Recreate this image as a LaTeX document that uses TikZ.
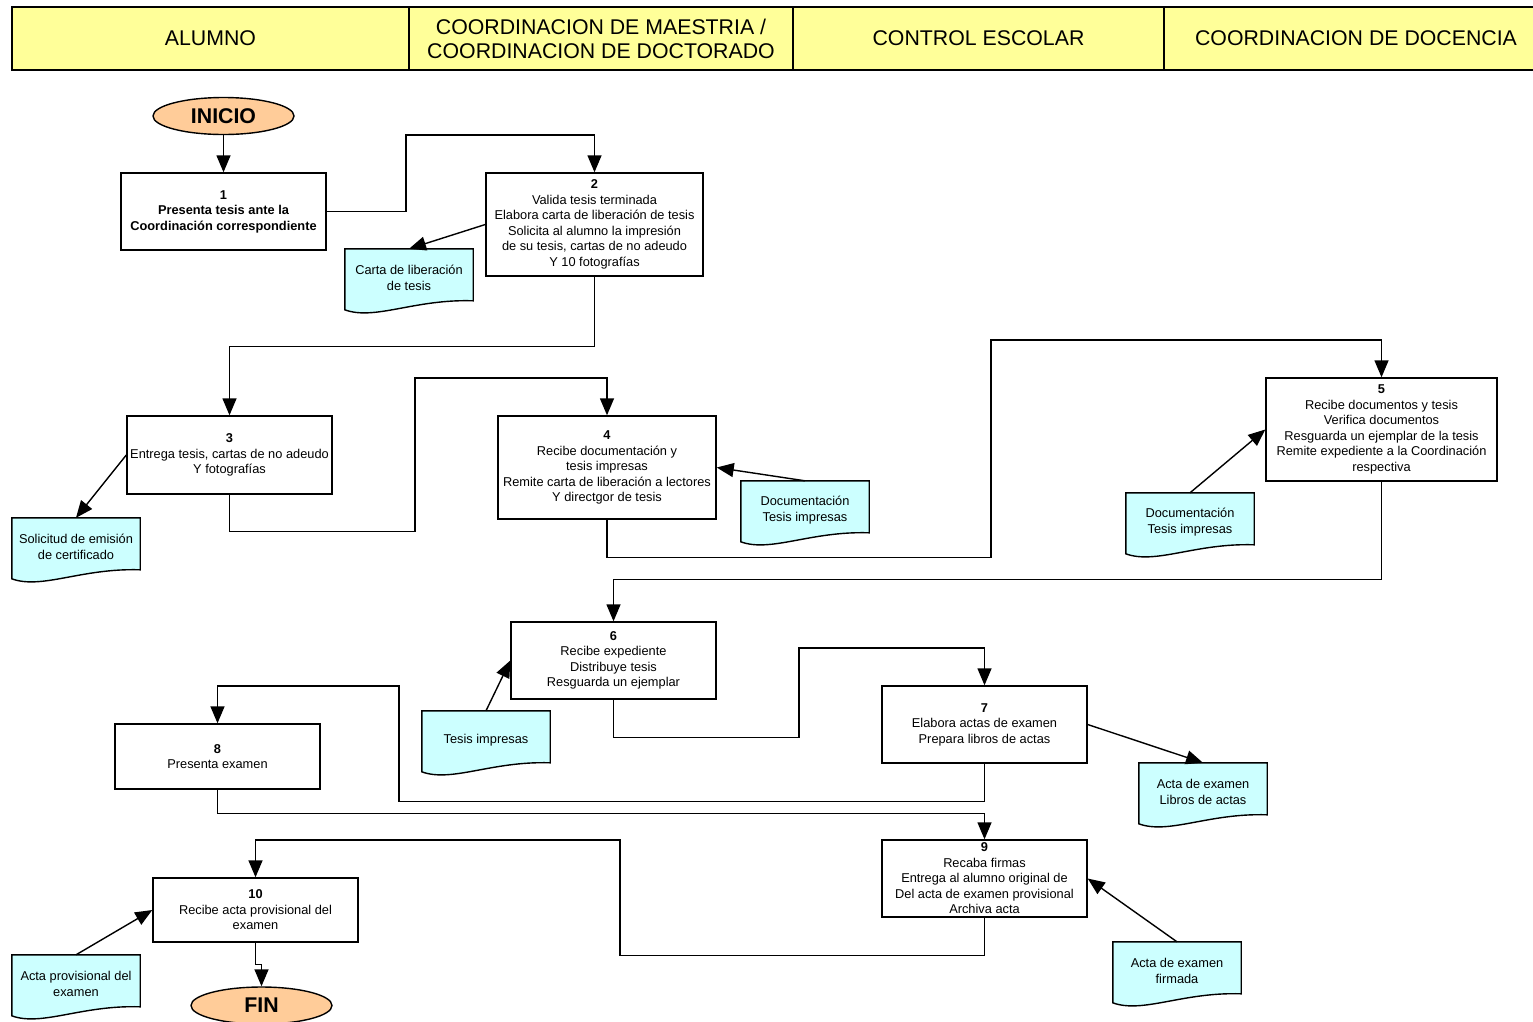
\documentclass[tikz,border=0pt]{standalone}
\usepackage{fontspec}
\setmainfont{Liberation Sans}
\usepackage{xcolor}
\usepackage{tikz}
\usetikzlibrary{arrows.meta,calc,backgrounds,positioning,shapes}
\tikzset{>={Triangle[length=17pt,width=14pt]}}
\definecolor{cabecera}{HTML}{FFFF99}
\definecolor{hojafill}{HTML}{CCFFFF}
\definecolor{termfill}{HTML}{FFCC99}
\tikzset{
  carril/.style={draw, fill=cabecera, line width=1.5pt, minimum height=63pt, align=center,
    font=\fontsize{21.3}{24}\selectfont, inner sep=0pt, text depth=0pt},
  paso/.style={draw, fill=white, line width=1.4pt, minimum width=205pt, minimum height=77pt,
    align=center, font=\fontsize{12.8}{15.5}\selectfont, inner sep=1pt},
  docu/.style={minimum width=128pt, minimum height=58pt, align=center,
    font=\fontsize{12.8}{15.5}\selectfont, inner sep=1pt},
  terminal/.style={ellipse, draw, fill=termfill, line width=1.4pt, minimum width=141pt,
    minimum height=37pt, inner sep=0pt, font=\fontsize{21.3}{24}\selectfont\bfseries},
  flujo/.style={->, line width=1.4pt},
}
% hoja con borde ondulado: nombre, posicion, texto
\newcommand{\hoja}[3]{%
  \node[docu] at (#2) (#1) {#3};
  \begin{scope}[on background layer]
    \draw[fill=hojafill, line width=1.4pt] (#1.north west) -- (#1.north east)
      -- ($(#1.north east)+(0,52)$)
      .. controls ($(#1.north west)+(70,50)$) and ($(#1.north west)+(30,72)$) .. ($(#1.north west)+(0,61)$)
      -- cycle;
  \end{scope}}

\begin{document}
\begin{tikzpicture}[x=1pt,y=-1pt]
  \useasboundingbox (0,0) rectangle (1533,1021);
  % carriles
  \node[carril, minimum width=397pt] at (210.5,38.5) (H1) {ALUMNO};
  \node[carril, minimum width=384pt] at (601,38.5) (H2) {COORDINACION DE MAESTRIA /\\COORDINACION DE DOCTORADO};
  \node[carril, minimum width=371pt] at (978.5,38.5) (H3) {CONTROL ESCOLAR};
  \node[carril, minimum width=384pt] at (1356,38.5) (H4) {COORDINACION DE DOCENCIA};

  \node[terminal] at (223.5,116) (Inicio) {INICIO};
  \node[paso, font=\fontsize{12.8}{15.5}\selectfont\bfseries] at (223.5,211.5) (S1) {1\\Presenta tesis ante la\\Coordinación correspondiente};
  \node[paso, minimum width=217pt, minimum height=103pt] at (594.5,224.5) (S2) {\textbf{2}\\Valida tesis terminada\\Elabora carta de liberación de tesis\\Solicita al alumno la impresión\\de su tesis, cartas de no adeudo\\Y 10 fotografías};
  \node[paso, minimum height=78pt] at (229.5,455) (S3) {\textbf{3}\\Entrega tesis, cartas de no adeudo\\Y fotografías};
  \node[paso, minimum width=218pt, minimum height=103pt] at (607,467.5) (S4) {\textbf{4}\\Recibe documentación y\\tesis impresas\\Remite carta de liberación a lectores\\Y directgor de tesis};
  \node[paso, minimum width=231pt, minimum height=103pt] at (1381.5,429.5) (S5) {\textbf{5}\\Recibe documentos y tesis\\Verifica documentos\\Resguarda un ejemplar de la tesis\\Remite expediente a la Coordinación\\respectiva};
  \node[paso] at (613.5,660.5) (S6) {\textbf{6}\\Recibe expediente\\Distribuye tesis\\Resguarda un ejemplar};
  \node[paso] at (984.5,724.5) (S7) {\textbf{7}\\Elabora actas de examen\\Prepara libros de actas};
  \node[paso, minimum height=65pt] at (217.5,756.5) (S8) {\textbf{8}\\Presenta examen};
  \node[paso] at (984.5,878.5) (S9) {\textbf{9}\\Recaba firmas\\Entrega al alumno original de\\Del acta de examen provisional\\Archiva acta};
  \node[paso, minimum height=64pt] at (255.5,910) (S10) {\textbf{10}\\Recibe acta provisional del\\examen};
  \node[terminal] at (261.5,1005.5) (Fin) {FIN};

  \hoja{D1}{409,278}{Carta de liberación\\de tesis}
  \hoja{D2}{76,547}{Solicitud de emisión\\de certificado}
  \hoja{D3}{805,510}{Documentación\\Tesis impresas}
  \hoja{D4}{1190,522}{Documentación\\Tesis impresas}
  \hoja{D5}{486,740}{Tesis impresas}
  \hoja{D6}{1203,792}{Acta de examen\\Libros de actas}
  \hoja{D7}{1177,971}{Acta de examen\\firmada}
  \hoja{D8}{76,984}{Acta provisional del\\examen}

  \draw[flujo] (Inicio) -- (S1);
  \draw[flujo] (S1.east) -| (406,135) -| (S2.north);
  \draw[flujo] (S2.west) -- (D1.north);
  \draw[flujo] (S2.south) -- ++(0,70) -| (S3.north);
  \draw[flujo] (S3.west) -- (D2.north);
  \draw[flujo] (S3.south) -- ++(0,37) -| (415,378) -| (S4.north);
  \draw[flujo] (D3.north) -- (S4.east);
  \draw[flujo] (S4.south) -- ++(0,38) -| (991,340) -| (S5.north);
  \draw[flujo] (D4.north) -- (S5.west);
  \draw[flujo] (S5.south) -- ++(0,98) -| (S6.north);
  \draw[flujo] (D5.north) -- (S6.west);
  \draw[flujo] (S6.south) -- ++(0,38) -| (799,648) -| (S7.north);
  \draw[flujo] (S7.east) -- (D6.north);
  \draw[flujo] (S7.south) -- ++(0,38) -| (399,686) -| (S8.north);
  \draw[flujo] (S8.south) -- ++(0,24) -| (S9.north);
  \draw[flujo] (D7.north) -- (S9.east);
  \draw[flujo] (S9.south) -- ++(0,38) -| (620,840) -| (S10.north);
  \draw[flujo] (D8.north) -- (S10.west);
  \draw[flujo] (S10.south) -- ++(0,22) -| (Fin.north);
\end{tikzpicture}
\end{document}
